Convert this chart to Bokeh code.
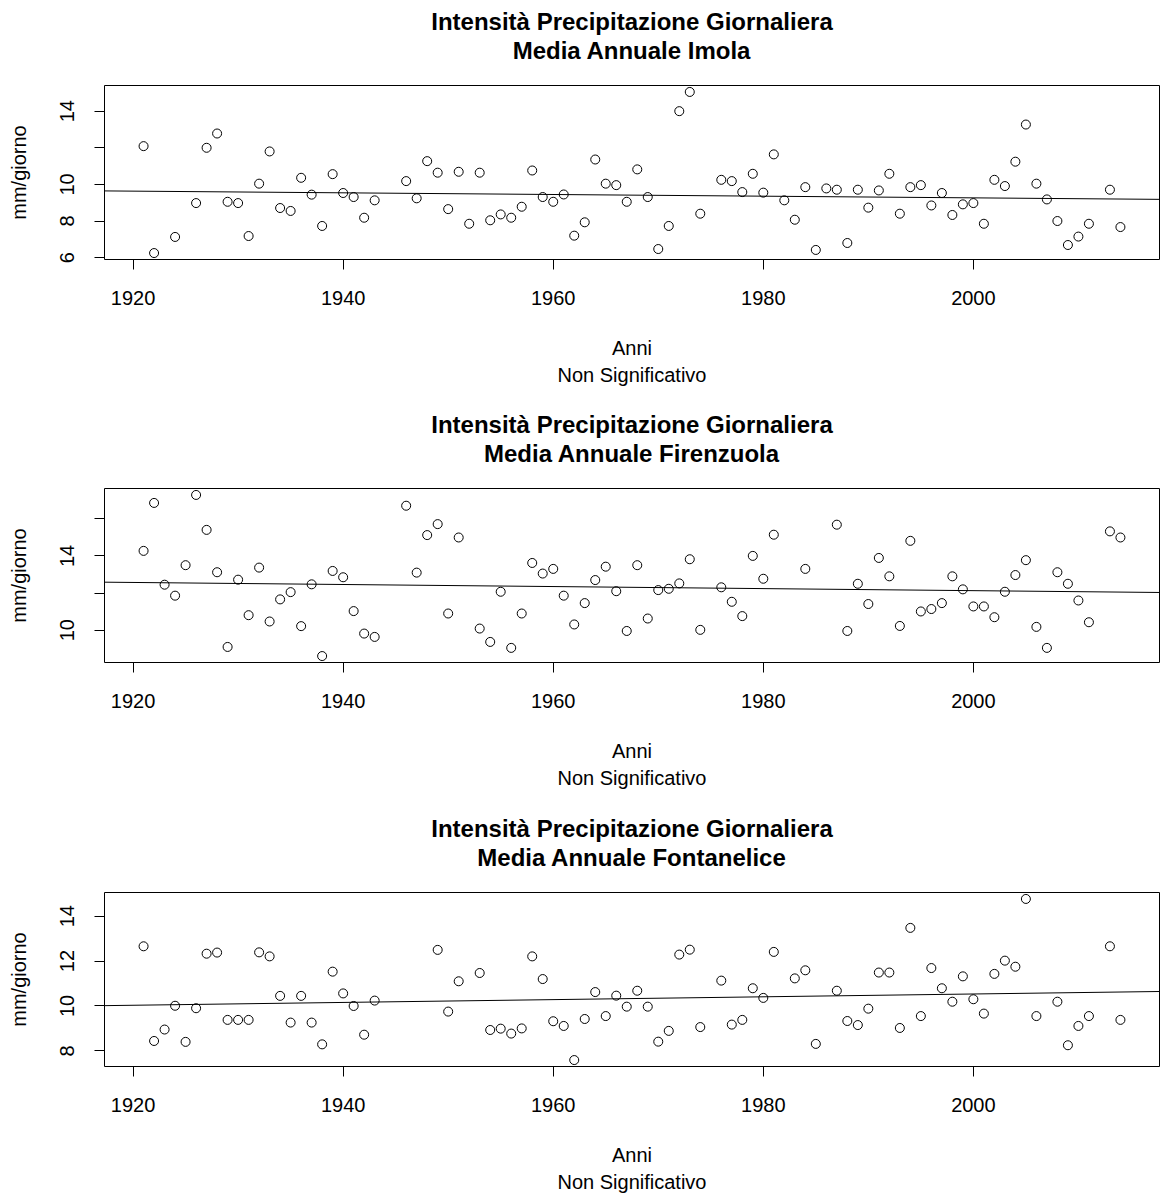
import numpy as np
from bokeh.plotting import figure
from bokeh.models import Range1d, FixedTicker, Title, Slope
from bokeh.layouts import column
from bokeh.embed import file_html
from bokeh.resources import INLINE

FONT = "Liberation Sans"

# ---------------- data ----------------
title_line1 = "Intensità Precipitazione Giornaliera"
x_label = "Anni"
x_sub = "Non Significativo"
y_label = "mm/giorno"
x_ticks = [1920, 1940, 1960, 1980, 2000]

imola_years = [1921, 1922, 1924, 1926, 1927, 1928, 1929, 1930, 1931, 1932, 1933, 1934, 1935,
               1936, 1937, 1938, 1939, 1940, 1941, 1942, 1943, 1946, 1947, 1948, 1949, 1950,
               1951, 1952, 1953, 1954, 1955, 1956, 1957, 1958, 1959, 1960, 1961, 1962, 1963,
               1964, 1965, 1966, 1967, 1968, 1969, 1970, 1971, 1972, 1973, 1974, 1976, 1977,
               1978, 1979, 1980, 1981, 1982, 1983, 1984, 1985, 1986, 1987, 1988, 1989, 1990,
               1991, 1992, 1993, 1994, 1995, 1996, 1997, 1998, 1999, 2000, 2001, 2002, 2003,
               2004, 2005, 2006, 2007, 2008, 2009, 2010, 2011, 2013, 2014]
imola_vals = [12.09, 6.25, 7.13, 8.98, 12.0, 12.78, 9.05, 8.98, 7.18, 10.04, 11.8, 8.71, 8.55,
              10.36, 9.44, 7.73, 10.56, 9.53, 9.31, 8.18, 9.13, 10.18, 9.24, 11.27, 10.64, 8.65,
              10.69, 7.85, 10.64, 8.04, 8.36, 8.18, 8.78, 10.76, 9.31, 9.05, 9.45, 7.2, 7.93,
              11.36, 10.04, 9.96, 9.05, 10.82, 9.31, 6.47, 7.73, 14.0, 15.05, 8.4, 10.25, 10.18,
              9.58, 10.58, 9.55, 11.64, 9.13, 8.07, 9.85, 6.42, 9.78, 9.71, 6.8, 9.71, 8.73,
              9.67, 10.58, 8.4, 9.85, 9.96, 8.85, 9.53, 8.33, 8.91, 8.98, 7.85, 10.25, 9.91,
              11.24, 13.27, 10.04, 9.18, 8.0, 6.69, 7.15, 7.85, 9.71, 7.67]

firenzuola_years = [1921, 1922, 1923, 1924, 1925, 1926, 1927, 1928, 1929, 1930, 1931, 1932,
                    1933, 1934, 1935, 1936, 1937, 1938, 1939, 1940, 1941, 1942, 1943, 1946,
                    1947, 1948, 1949, 1950, 1951, 1953, 1954, 1955, 1956, 1957, 1958, 1959,
                    1960, 1961, 1962, 1963, 1964, 1965, 1966, 1967, 1968, 1969, 1970, 1971,
                    1972, 1973, 1974, 1976, 1977, 1978, 1979, 1980, 1981, 1984, 1987, 1988,
                    1989, 1990, 1991, 1992, 1993, 1994, 1995, 1996, 1997, 1998, 1999, 2000,
                    2001, 2002, 2003, 2004, 2005, 2006, 2007, 2008, 2009, 2010, 2011, 2013, 2014]
firenzuola_vals = [14.27, 16.85, 12.45, 11.86, 13.5, 17.28, 15.4, 13.12, 9.1, 12.72, 10.81, 13.37,
                   10.47, 11.66, 12.05, 10.22, 12.47, 8.61, 13.19, 12.85, 11.03, 9.82, 9.64, 16.7,
                   13.1, 15.12, 15.71, 10.9, 14.99, 10.09, 9.37, 12.07, 9.05, 10.9, 13.62, 13.05,
                   13.3, 11.86, 10.31, 11.46, 12.7, 13.42, 12.1, 9.96, 13.5, 10.63, 12.16, 12.23,
                   12.52, 13.82, 10.02, 12.31, 11.53, 10.76, 14.0, 12.77, 15.14, 13.3, 15.68, 9.96,
                   12.5, 11.41, 13.89, 12.9, 10.23, 14.81, 11.01, 11.14, 11.46, 12.9, 12.2, 11.28,
                   11.28, 10.7, 12.07, 12.97, 13.77, 10.18, 9.05, 13.12, 12.5, 11.6, 10.43, 15.32, 14.99]

fontanelice_years = [1921, 1922, 1923, 1924, 1925, 1926, 1927, 1928, 1929, 1930, 1931, 1932,
                     1933, 1934, 1935, 1936, 1937, 1938, 1939, 1940, 1941, 1942, 1943, 1949,
                     1950, 1951, 1953, 1954, 1955, 1956, 1957, 1958, 1959, 1960, 1961, 1962,
                     1963, 1964, 1965, 1966, 1967, 1968, 1969, 1970, 1971, 1972, 1973, 1974,
                     1976, 1977, 1978, 1979, 1980, 1981, 1983, 1984, 1985, 1987, 1988, 1989,
                     1990, 1991, 1992, 1993, 1994, 1995, 1996, 1997, 1998, 1999, 2000, 2001,
                     2002, 2003, 2004, 2005, 2006, 2008, 2009, 2010, 2011, 2013, 2014]
fontanelice_vals = [12.66, 8.44, 8.95, 10.01, 8.4, 9.9, 12.33, 12.38, 9.38, 9.38, 9.38, 12.39,
                    12.21, 10.45, 9.26, 10.45, 9.26, 8.29, 11.53, 10.56, 10.0, 8.72, 10.24, 12.5,
                    9.75, 11.1, 11.47, 8.93, 8.99, 8.77, 9.0, 12.21, 11.2, 9.32, 9.11, 7.59,
                    9.42, 10.62, 9.55, 10.46, 9.97, 10.68, 9.97, 8.41, 8.89, 12.29, 12.51, 9.06,
                    11.13, 9.17, 9.38, 10.79, 10.36, 12.41, 11.23, 11.59, 8.31, 10.68, 9.33, 9.15,
                    9.88, 11.49, 11.49, 9.02, 13.48, 9.55, 11.69, 10.79, 10.19, 11.32, 10.3, 9.66,
                    11.43, 12.02, 11.75, 14.77, 9.55, 10.19, 8.25, 9.11, 9.55, 12.66, 9.38]

imola_yticks = [6, 8, 10, 12, 14]
imola_hidden = [12]
firenzuola_yticks = [10, 12, 14, 16]
firenzuola_hidden = [12, 16]
fontanelice_yticks = [8, 10, 12, 14]
fontanelice_hidden = []


def make_panel(years, vals, station, yticks, hidden, height, border_bottom):
    xs = np.array(years, dtype=float)
    ys = np.array(vals, dtype=float)
    dx = (xs.max() - xs.min()) * 0.04
    dy = (ys.max() - ys.min()) * 0.04
    p = figure(width=1161, height=height, output_backend="svg", toolbar_location=None,
               title=None,
               x_range=Range1d(xs.min() - dx, xs.max() + dx),
               y_range=Range1d(ys.min() - dy, ys.max() + dy),
               min_border_left=104, min_border_right=2, min_border_top=85,
               min_border_bottom=border_bottom)
    p.background_fill_color = "white"
    p.border_fill_color = "white"
    p.xgrid.visible = False
    p.ygrid.visible = False
    p.outline_line_color = "black"
    p.outline_line_width = 1
    p.outline_line_alpha = 1.0

    p.scatter(xs, ys, marker="circle", size=9, fill_color=None,
              line_color="black", line_width=1)

    slope, intercept = np.polyfit(xs, ys, 1)
    p.add_layout(Slope(gradient=float(slope), y_intercept=float(intercept),
                       line_color="black", line_width=1))

    for ax in (p.xaxis[0], p.yaxis[0]):
        ax.axis_line_color = None
        ax.major_tick_out = 10
        ax.major_tick_in = 0
        ax.major_tick_line_color = "black"
        ax.minor_tick_line_color = None
        ax.major_label_text_font = FONT
        ax.major_label_text_font_size = "20px"
        ax.major_label_text_color = "black"
        ax.axis_label_text_font = FONT
        ax.axis_label_text_font_size = "20px"
        ax.axis_label_text_font_style = "normal"
        ax.axis_label_text_color = "black"

    p.xaxis.ticker = FixedTicker(ticks=x_ticks)
    p.xaxis.major_label_standoff = 21
    p.xaxis.axis_label = x_label
    p.xaxis.axis_label_standoff = 29

    p.yaxis.ticker = FixedTicker(ticks=yticks)
    p.yaxis.major_label_orientation = "vertical"
    p.yaxis.major_label_standoff = 20
    p.yaxis.major_label_overrides = {t: "" for t in hidden}
    p.yaxis.axis_label = y_label
    p.yaxis.axis_label_standoff = 28

    p.add_layout(Title(text=x_sub, align="center", text_font=FONT, text_font_size="20px",
                       text_font_style="normal", text_color="black", standoff=0), "below")
    # small invisible spacer between the plot box and the two-line title
    p.add_layout(Title(text=" ", align="center", text_font=FONT, text_font_size="2px",
                       text_color="white", standoff=18), "above")
    p.add_layout(Title(text=f"Media Annuale {station}", align="center", text_font=FONT,
                       text_font_size="24px", text_font_style="bold", text_color="black",
                       standoff=0), "above")
    p.add_layout(Title(text=title_line1, align="center", text_font=FONT,
                       text_font_size="24px", text_font_style="bold", text_color="black",
                       standoff=0), "above")
    return p


p1 = make_panel(imola_years, imola_vals, "Imola", imola_yticks, imola_hidden, 403, 144)
p2 = make_panel(firenzuola_years, firenzuola_vals, "Firenzuola", firenzuola_yticks,
                firenzuola_hidden, 404, 145)
p3 = make_panel(fontanelice_years, fontanelice_vals, "Fontanelice", fontanelice_yticks,
                fontanelice_hidden, 386, 127)

layout = column(p1, p2, p3, spacing=0)
open("out.html", "w").write(file_html(layout, INLINE))
